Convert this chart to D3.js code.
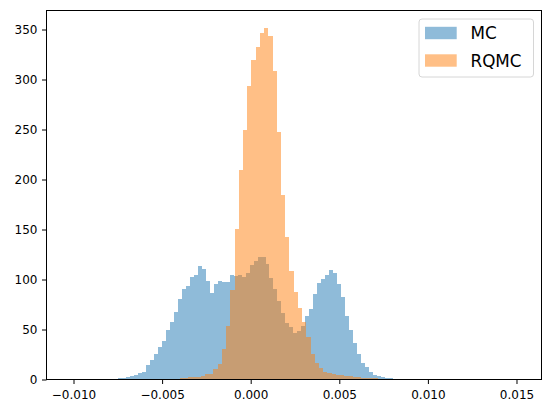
<!DOCTYPE html>
<html>
<head>
<meta charset="utf-8">
<script src="https://cdn.jsdelivr.net/npm/d3@7"></script>
<style>
  html, body { margin: 0; padding: 0; background: #fff; }
  svg { display: block; }
  text { font-family: "DejaVu Sans", sans-serif; }
</style>
</head>
<body>
<div id="chart"></div>
<script>
// ---- data ----
const seriesNames = ["MC", "RQMC"];

// MC histogram: first visible bin edge, bin width, counts
const mcStart = -0.0077060;
const mcWidth = 0.00022477;
const mcCounts = [1, 2, 2, 3, 4, 5, 7, 8, 15,
  20, 26, 33, 39, 50, 58, 68, 81, 91, 94, 103, 105, 114, 111, 99, 87, 96, 99, 98, 98, 105,
  104, 105, 103, 107, 115, 119, 123, 123, 116, 102, 91, 79, 67, 57, 53, 47, 49, 54,
  64, 71, 86, 97, 101, 105, 110, 107, 96, 83, 64, 50, 37, 26, 17, 13, 8, 5, 4, 3, 2, 2, 1, 1];

// RQMC histogram
const rqmcStart = -0.0042461;
const rqmcWidth = 0.00023815;
const rqmcCounts = [1, 2, 2, 3, 3, 3, 4, 6, 6, 11, 16, 31, 54, 90, 151, 210, 250, 294, 320, 333,
  347, 352, 344, 309, 248, 185, 143, 109, 88, 72, 58, 43, 26, 17, 12, 8, 7, 6, 5, 5,
  4, 4, 3, 3, 2, 2, 2, 2, 1, 1];

const xTicks = [-0.010, -0.005, 0.000, 0.005, 0.010, 0.015];
const yTicks = [0, 50, 100, 150, 200, 250, 300, 350];
const xDomain = [-0.011524, 0.016411];
const yDomain = [0, 369];

// ---- drawing ----
const W = 552, H = 413;
const plot = { left: 46.5, right: 541.5, top: 10.5, bottom: 379.5 };
const colors = ["#1f77b4", "#ff7f0e"];

const svg = d3.select("#chart").append("svg").attr("width", W).attr("height", H);

const x = d3.scaleLinear().domain(xDomain).range([plot.left, plot.right]);
const y = d3.scaleLinear().domain(yDomain).range([plot.bottom, plot.top]);

function bins(start, width, counts) {
  return counts.map((c, i) => ({ x0: start + i * width, x1: start + (i + 1) * width, c }));
}
const series = [bins(mcStart, mcWidth, mcCounts), bins(rqmcStart, rqmcWidth, rqmcCounts)];

svg.append("clipPath").attr("id", "clip").append("rect")
  .attr("x", plot.left).attr("y", plot.top)
  .attr("width", plot.right - plot.left).attr("height", plot.bottom - plot.top);

const g = svg.append("g").attr("clip-path", "url(#clip)");
series.forEach((s, si) => {
  g.append("g").attr("shape-rendering", "crispEdges")
    .selectAll("rect").data(s.filter(d => d.c > 0)).join("rect")
    .attr("x", d => x(d.x0))
    .attr("width", d => x(d.x1) - x(d.x0))
    .attr("y", d => y(d.c))
    .attr("height", d => y(0) - y(d.c))
    .attr("fill", colors[si])
    .attr("fill-opacity", 0.5);
});

// axes
const xAxis = d3.axisBottom(x).tickValues(xTicks).tickFormat(d3.format(".3f"))
  .tickSize(4.5).tickPadding(4.5);
const yAxis = d3.axisLeft(y).tickValues(yTicks).tickFormat(d3.format("d"))
  .tickSize(4.5).tickPadding(4.5);

const gx = svg.append("g").attr("transform", `translate(0,${plot.bottom})`).call(xAxis);
const gy = svg.append("g").attr("transform", `translate(${plot.left},0)`).call(yAxis);
[gx, gy].forEach(a => {
  a.select(".domain").remove();
  a.selectAll(".tick line").attr("stroke", "#000").attr("stroke-width", 1);
  a.selectAll(".tick text").attr("fill", "#000").style("font-size", "12px")
    .style("font-family", "'DejaVu Sans', sans-serif");
});
gx.selectAll(".tick text").attr("dy", null).attr("y", 19.5);

// spines
svg.append("rect")
  .attr("x", plot.left).attr("y", plot.top)
  .attr("width", plot.right - plot.left).attr("height", plot.bottom - plot.top)
  .attr("fill", "none").attr("stroke", "#000").attr("stroke-width", 1);

// legend
const leg = svg.append("g");
const lg = { x: 419, y: 19, w: 114.5, h: 58 };
leg.append("rect").attr("x", lg.x).attr("y", lg.y).attr("width", lg.w).attr("height", lg.h)
  .attr("rx", 3).attr("ry", 3)
  .attr("fill", "#fff").attr("fill-opacity", 0.8)
  .attr("stroke", "#d6d6d6").attr("stroke-width", 1);
seriesNames.forEach((name, i) => {
  const cy = 33 + i * 27.5;
  leg.append("rect").attr("x", 425).attr("y", cy - 6.2).attr("width", 31.7).attr("height", 12.4)
    .attr("fill", colors[i]).attr("fill-opacity", 0.5);
  leg.append("text").attr("x", 470.5).attr("y", cy + 6)
    .style("font-size", "16.8px").attr("fill", "#000").text(name);
});
</script>
</body>
</html>
